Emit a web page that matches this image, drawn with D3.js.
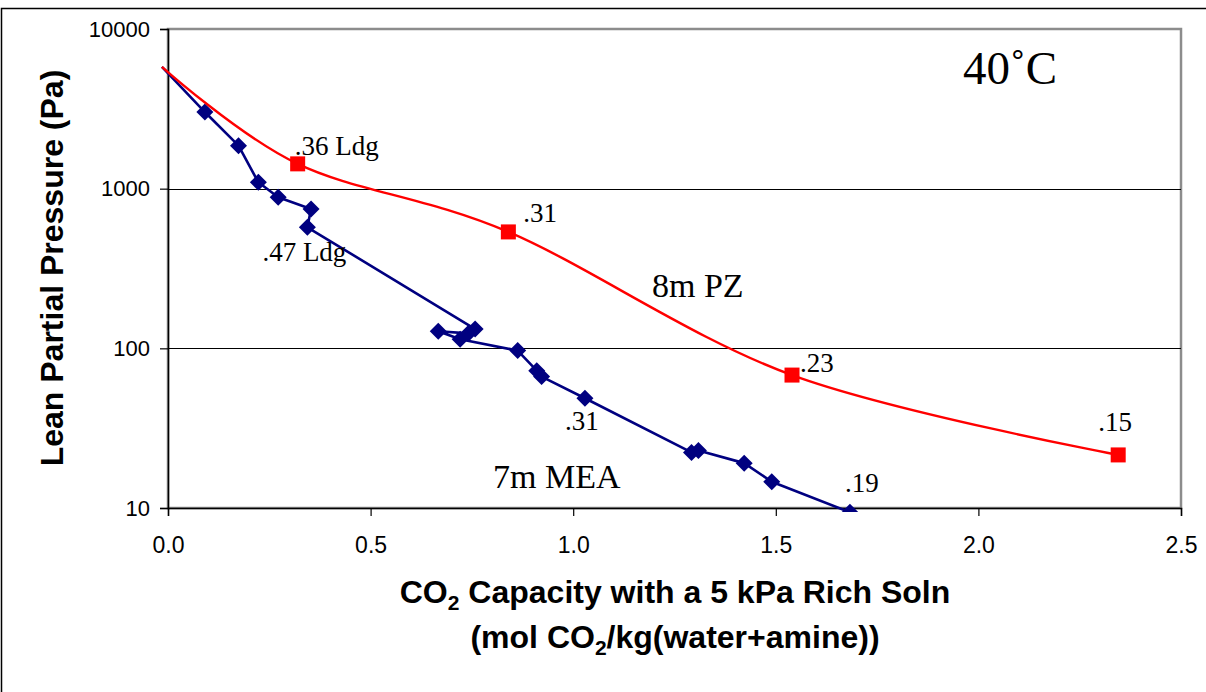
<!DOCTYPE html>
<html>
<head>
<meta charset="utf-8">
<script src="https://cdn.jsdelivr.net/npm/d3@7"></script>
<style>
  html, body { margin: 0; padding: 0; background: #fff; }
  svg { display: block; }
</style>
</head>
<body>
<svg id="chart" width="1206" height="692"></svg>
<script>
// 8 m PZ series (smoothed line, square markers); first point is the curve start (no marker)
const pzX = [-0.015, 0.32, 0.84, 1.54, 2.345];
const pzY = [5800, 1430, 536, 68, 21.5];
const pzLabels = ["", ".36 Ldg", ".31", ".23", ".15"];

// 7 m MEA series (straight segments, diamond markers); first point is the line start (no marker)
const meaX = [-0.015, 0.091, 0.174, 0.223, 0.272, 0.353, 0.344, 0.758, 0.741, 0.667, 0.721, 0.863, 0.910, 0.922, 1.029, 1.292, 1.309, 1.422, 1.490, 1.683, 1.85];
const meaY = [5800, 3020, 1860, 1096, 883, 746, 573, 132, 124, 128, 114, 96.8, 72.5, 66.5, 48.7, 22.3, 22.9, 19.1, 14.6, 9.4, 7.2];

// Axis ticks
const xTicks = [0.0, 0.5, 1.0, 1.5, 2.0, 2.5];
const yTicks = [10, 100, 1000, 10000];
const yGrid = [100, 1000];

const svg = d3.select("#chart");
const L = 168, R = 1181, T = 29, B = 508;

const x = d3.scaleLinear().domain([0, 2.5]).range([L, R]);
const y = d3.scaleLog().domain([10, 10000]).range([B, T]);

const sans = "Arial, 'Liberation Sans', sans-serif";
const serif = "'Times New Roman', 'Liberation Serif', serif";

// outer chart border (top and left edges visible)
svg.append("rect")
  .attr("x", 1.5).attr("y", 8.5).attr("width", 1300).attr("height", 800)
  .attr("fill", "none").attr("stroke", "#000").attr("stroke-width", 1.5);

// plot frame
svg.append("rect")
  .attr("x", L).attr("y", T).attr("width", R - L).attr("height", B - T)
  .attr("fill", "none").attr("stroke", "#8c8c8c").attr("stroke-width", 2.5);

// horizontal gridlines
svg.append("g").selectAll("line").data(yGrid).join("line")
  .attr("x1", L).attr("x2", R)
  .attr("y1", d => Math.round(y(d)) + 0.5).attr("y2", d => Math.round(y(d)) + 0.5)
  .attr("stroke", "#000").attr("stroke-width", 1);

// axes
const yAxis = d3.axisLeft(y).tickValues(yTicks).tickFormat(d3.format("d")).tickSize(8).tickPadding(10);
const gy = svg.append("g").attr("transform", `translate(${L},0)`).call(yAxis)
  .attr("font-family", sans).attr("font-size", 22);
gy.select(".domain").attr("stroke", "#000").attr("stroke-width", 1.5);
gy.selectAll(".tick line").attr("stroke", "#000").attr("stroke-width", 1.2);
gy.selectAll(".tick text").attr("fill", "#000");

const xAxis = d3.axisBottom(x).tickValues(xTicks).tickFormat(d3.format(".1f")).tickSize(8).tickPadding(21);
const gx = svg.append("g").attr("transform", `translate(0,${B})`).call(xAxis)
  .attr("font-family", sans).attr("font-size", 23);
gx.select(".domain").attr("stroke", "#000").attr("stroke-width", 1.5);
gx.selectAll(".tick line").attr("stroke", "#000").attr("stroke-width", 1.2);
gx.selectAll(".tick text").attr("fill", "#000");

// clip region for the series
svg.append("clipPath").attr("id", "plotClip")
  .append("rect").attr("x", L - 8).attr("y", T - 8).attr("width", R - L + 16).attr("height", B - T + 12);

const series = svg.append("g").attr("clip-path", "url(#plotClip)");

// 7m MEA line
const mea = meaX.map((v, i) => [v, meaY[i]]);
series.append("path")
  .datum(mea)
  .attr("d", d3.line().x(d => x(d[0])).y(d => y(d[1])))
  .attr("fill", "none").attr("stroke", "#000080").attr("stroke-width", 2.6)
  .attr("stroke-linejoin", "round");

series.append("g").selectAll("path").data(mea.slice(1)).join("path")
  .attr("transform", d => `translate(${x(d[0])},${y(d[1])})`)
  .attr("d", "M0,-8.5L8.5,0L0,8.5L-8.5,0Z")
  .attr("fill", "#000080");

// 8m PZ smoothed line
const pz = pzX.map((v, i) => [v, pzY[i], pzLabels[i]]);
series.append("path")
  .datum(pz)
  .attr("d", d3.line().x(d => x(d[0])).y(d => y(d[1])).curve(d3.curveCatmullRom.alpha(0)))
  .attr("fill", "none").attr("stroke", "#ff0000").attr("stroke-width", 2.4);

series.append("g").selectAll("rect").data(pz.slice(1)).join("rect")
  .attr("x", d => x(d[0]) - 7.5).attr("y", d => y(d[1]) - 7.5)
  .attr("width", 15).attr("height", 15)
  .attr("fill", "#ff0000");

// point labels
const pzOffsets = [null, [-3, -9], [15, -10], [8, -3], [-20, -24]];
svg.append("g").selectAll("text").data(pz.slice(1)).join("text")
  .attr("x", (d, i) => x(d[0]) + pzOffsets[i + 1][0])
  .attr("y", (d, i) => y(d[1]) + pzOffsets[i + 1][1])
  .attr("font-family", serif).attr("font-size", 27).attr("fill", "#000")
  .text(d => d[2]);

const meaLabelData = [
  { x: 0.344, y: 573, text: ".47 Ldg", dx: -45, dy: 34 },
  { x: 1.029, y: 48.7, text: ".31", dx: -20, dy: 32 },
  { x: 1.683, y: 9.4, text: ".19", dx: -5, dy: -20 }
];
svg.append("g").selectAll("text").data(meaLabelData).join("text")
  .attr("x", d => x(d.x) + d.dx).attr("y", d => y(d.y) + d.dy)
  .attr("font-family", serif).attr("font-size", 27).attr("fill", "#000")
  .text(d => d.text);

// series names and temperature
svg.append("text").attr("x", 652).attr("y", 297)
  .attr("font-family", serif).attr("font-size", 34).text("8m PZ");
svg.append("text").attr("x", 493).attr("y", 488)
  .attr("font-family", serif).attr("font-size", 34).text("7m MEA");
svg.append("text").attr("x", 963).attr("y", 84)
  .attr("font-family", serif).attr("font-size", 47).text("40˚C");

// axis titles
svg.append("text")
  .attr("transform", "translate(63,268) rotate(-90)")
  .attr("text-anchor", "middle")
  .attr("font-family", sans).attr("font-weight", "bold").attr("font-size", 32)
  .text("Lean Partial Pressure (Pa)");

const t1 = svg.append("text").attr("x", 675).attr("y", 603).attr("text-anchor", "middle")
  .attr("font-family", sans).attr("font-weight", "bold").attr("font-size", 32);
t1.append("tspan").text("CO");
t1.append("tspan").attr("font-size", 21).attr("dy", 7).text("2");
t1.append("tspan").attr("dy", -7).text(" Capacity with a 5 kPa Rich Soln");

const t2 = svg.append("text").attr("x", 675).attr("y", 648).attr("text-anchor", "middle")
  .attr("font-family", sans).attr("font-weight", "bold").attr("font-size", 32);
t2.append("tspan").text("(mol CO");
t2.append("tspan").attr("font-size", 21).attr("dy", 7).text("2");
t2.append("tspan").attr("dy", -7).text("/kg(water+amine))");
</script>
</body>
</html>
